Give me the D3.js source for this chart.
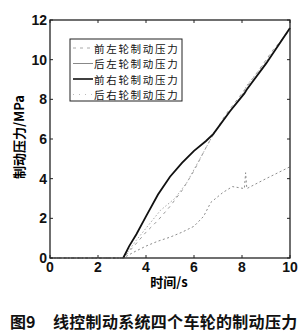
<!DOCTYPE html>
<html><head><meta charset="utf-8">
<script src="https://cdn.jsdelivr.net/npm/d3@7"></script>
<style>
body{margin:0;background:#fff;}
svg text{font-family:"Liberation Sans",Arial,sans-serif;}
</style></head>
<body>
<svg width="304" height="335"></svg>
<script>
var xTicks = [0, 2, 4, 6, 8, 10];
var yTicks = [0, 2, 4, 6, 8, 10, 12];
var seriesNames = ["前左轮制动压力", "后左轮制动压力", "前右轮制动压力", "后右轮制动压力"];

// time (s) / pressure (MPa)
var frontLeftT = [0, 3.05, 3.5, 4.0, 4.5, 5.0, 5.5, 6.0, 6.6, 7.3, 8.0, 8.6, 9.3, 10];
var frontLeftP = [0, 0, 0.6, 1.3, 1.9, 2.6, 3.4, 4.4, 5.8, 7.2, 8.3, 9.3, 10.5, 11.5];
var rearLeftT = [0, 3.05, 3.6, 4.2, 4.6, 5.2, 5.7, 6.2, 6.7, 7.3, 8.0, 8.2, 9.0, 10];
var rearLeftP = [0, 0, 0.9, 1.8, 2.4, 3.0, 3.8, 4.9, 6.0, 7.1, 8.2, 8.7, 9.9, 11.6];
var frontRightT = [3.05, 3.3, 3.6, 4.0, 4.5, 5.0, 5.5, 6.0, 6.5, 6.8, 7.5, 8.1, 8.2, 9.0, 10];
var frontRightP = [0, 0.6, 1.2, 2.1, 3.2, 4.1, 4.8, 5.4, 5.9, 6.25, 7.4, 8.3, 8.5, 9.8, 11.6];
var rearRightT = [0, 3.05, 3.5, 4.0, 4.5, 5.0, 5.5, 6.0, 6.4, 6.7, 7.2, 7.6, 8.1, 8.15, 8.2, 9.0, 10];
var rearRightP = [0, 0, 0.3, 0.6, 0.85, 1.05, 1.3, 1.6, 2.1, 2.8, 3.3, 3.6, 3.5, 4.3, 3.5, 4.0, 4.6];

var series = [
  {t: frontLeftT, p: frontLeftP, color: "#9a9a9a", width: 1, dash: "3,4"},
  {t: rearLeftT, p: rearLeftP, color: "#a8a8a8", width: 1, dash: "1.5,2"},
  {t: frontRightT, p: frontRightP, color: "#111", width: 1.8, dash: null},
  {t: rearRightT, p: rearRightP, color: "#8c8c8c", width: 1, dash: "2,2.5"}
];
var legendDash = ["3,4", null, null, "1,5"];
var legendColor = ["#aaa", "#888", "#111", "#bbb"];

var svg = d3.select("svg");
var x = d3.scaleLinear().domain([0, 10]).range([50, 290]);
var y = d3.scaleLinear().domain([0, 12]).range([258, 20]);

var line = d3.line().x(function(d) { return x(d[0]); }).y(function(d) { return y(d[1]); });

series.forEach(function(s) {
  var pts = s.t.map(function(t, i) { return [t, s.p[i]]; });
  svg.append("path")
    .attr("d", line(pts))
    .attr("fill", "none")
    .attr("stroke", s.color)
    .attr("stroke-width", s.width)
    .attr("stroke-dasharray", s.dash);
});

// frame
svg.append("rect")
  .attr("x", x(0)).attr("y", y(12))
  .attr("width", x(10) - x(0)).attr("height", y(0) - y(12))
  .attr("fill", "none").attr("stroke", "#222").attr("stroke-width", 1.3);

// inward ticks on all sides
var tickLen = 3;
xTicks.forEach(function(v) {
  svg.append("line").attr("x1", x(v)).attr("x2", x(v)).attr("y1", y(0)).attr("y2", y(0) - tickLen).attr("stroke", "#222");
  svg.append("line").attr("x1", x(v)).attr("x2", x(v)).attr("y1", y(12)).attr("y2", y(12) + tickLen).attr("stroke", "#222");
  svg.append("text").attr("x", x(v)).attr("y", y(0) + 14)
    .attr("text-anchor", "middle").attr("font-size", 14).attr("font-weight", "bold").attr("fill", "#111")
    .text(v);
});
yTicks.forEach(function(v) {
  svg.append("line").attr("x1", x(0)).attr("x2", x(0) + tickLen).attr("y1", y(v)).attr("y2", y(v)).attr("stroke", "#222");
  svg.append("line").attr("x1", x(10)).attr("x2", x(10) - tickLen).attr("y1", y(v)).attr("y2", y(v)).attr("stroke", "#222");
  svg.append("text").attr("x", x(0) - 3).attr("y", y(v) + 5)
    .attr("text-anchor", "end").attr("font-size", 14).attr("font-weight", "bold").attr("fill", "#111")
    .text(v);
});

// axis titles
svg.append("text")
  .attr("transform", "translate(24,137) rotate(-90)")
  .attr("text-anchor", "middle").attr("font-size", 13).attr("font-weight", "bold")
  .style("font-family", "'Noto Sans CJK SC',sans-serif")
  .text("制动压力/MPa");
svg.append("text")
  .attr("x", 169).attr("y", 287)
  .attr("text-anchor", "middle").attr("font-size", 13).attr("font-weight", "bold")
  .style("font-family", "'Noto Sans CJK SC',sans-serif")
  .text("时间/s");

// legend
var lg = svg.append("g");
lg.append("rect").attr("x", 70).attr("y", 39).attr("width", 112).attr("height", 62)
  .attr("fill", "#fff").attr("stroke", "#222").attr("stroke-width", 1);
seriesNames.forEach(function(name, i) {
  var yy = 48 + i * 15.5;
  lg.append("line").attr("x1", 73).attr("x2", 93).attr("y1", yy).attr("y2", yy)
    .attr("stroke", legendColor[i]).attr("stroke-width", i === 2 ? 1.6 : 1)
    .attr("stroke-dasharray", legendDash[i]);
  lg.append("text").attr("x", 94).attr("y", yy + 4.5)
    .attr("font-size", 10.5).attr("letter-spacing", 1.7).attr("fill", "#111")
    .style("font-family", "'Noto Sans CJK SC',sans-serif")
    .text(name);
});

// caption
var capFont = "'Noto Sans CJK SC',sans-serif";
svg.append("text")
  .attr("x", 10).attr("y", 328)
  .attr("font-size", 16).attr("font-weight", "bold").attr("fill", "#111")
  .style("font-family", capFont)
  .text("图9");
svg.append("text")
  .attr("x", 53).attr("y", 328)
  .attr("font-size", 16).attr("font-weight", "bold").attr("letter-spacing", 0.3).attr("fill", "#111")
  .style("font-family", capFont)
  .text("线控制动系统四个车轮的制动压力");
</script>
</body></html>
